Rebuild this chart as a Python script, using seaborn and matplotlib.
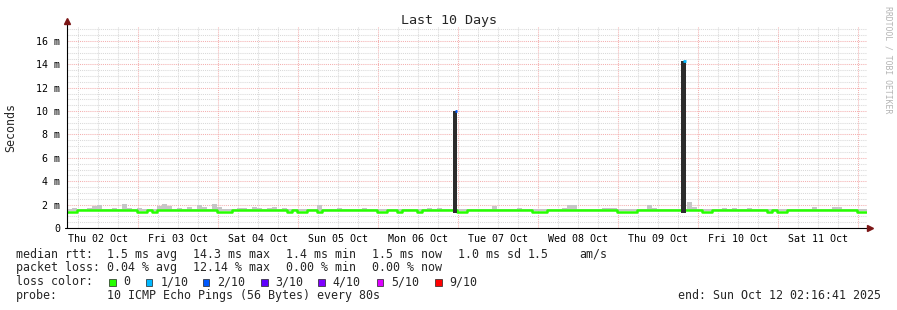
import numpy as np
import pandas as pd
import matplotlib
matplotlib.use("Agg")
import matplotlib.pyplot as plt
from matplotlib.lines import Line2D
from matplotlib.patches import Rectangle
from matplotlib.ticker import FixedLocator, FuncFormatter, MultipleLocator
import seaborn as sns

# ---------------- data (hours since Thu 02 Oct 00:00, values in ms) ----------------
start_hour = 2.55
bin_hours = 1.5

median_ms = [
    1.39, 1.39, 1.5, 1.5, 1.5, 1.5, 1.5, 1.5, 1.5, 1.5,
    1.5, 1.5, 1.5, 1.5, 1.39, 1.39, 1.5, 1.39, 1.5, 1.5,
    1.5, 1.5, 1.5, 1.5, 1.5, 1.5, 1.5, 1.5, 1.5, 1.5,
    1.39, 1.39, 1.39, 1.5, 1.5, 1.5, 1.5, 1.5, 1.5, 1.5,
    1.5, 1.5, 1.5, 1.5, 1.39, 1.5, 1.39, 1.39, 1.5, 1.5,
    1.39, 1.5, 1.5, 1.5, 1.5, 1.5, 1.5, 1.5, 1.5, 1.5,
    1.5, 1.5, 1.39, 1.39, 1.5, 1.5, 1.39, 1.5, 1.5, 1.5,
    1.39, 1.5, 1.5, 1.5, 1.5, 1.5, 1.5, 1.5, 1.39, 1.39,
    1.5, 1.5, 1.5, 1.5, 1.5, 1.5, 1.5, 1.5, 1.5, 1.5,
    1.5, 1.5, 1.5, 1.39, 1.39, 1.39, 1.5, 1.5, 1.5, 1.5,
    1.5, 1.5, 1.5, 1.5, 1.5, 1.5, 1.5, 1.5, 1.5, 1.5,
    1.39, 1.39, 1.39, 1.39, 1.5, 1.5, 1.5, 1.5, 1.5, 1.5,
    1.5, 1.5, 1.5, 1.5, 1.5, 1.5, 1.5, 1.39, 1.39, 1.5,
    1.5, 1.5, 1.5, 1.5, 1.5, 1.5, 1.5, 1.5, 1.5, 1.5,
    1.39, 1.5, 1.39, 1.39, 1.5, 1.5, 1.5, 1.5, 1.5, 1.5,
    1.5, 1.5, 1.5, 1.5, 1.5, 1.5, 1.5, 1.5, 1.39, 1.39,
]

smoke_top_ms = [
    1.6, 1.71, 1.6, 1.6, 1.75, 1.9, 1.97, 1.6, 1.6, 1.71,
    1.6, 2.05, 1.71, 1.6, 1.71, 1.6, 1.6, 1.6, 1.9, 2.05,
    1.88, 1.6, 1.71, 1.6, 1.82, 1.6, 1.94, 1.76, 1.6, 2.05,
    1.82, 1.65, 1.6, 1.6, 1.71, 1.71, 1.6, 1.82, 1.71, 1.6,
    1.71, 1.82, 1.6, 1.71, 1.6, 1.65, 1.6, 1.6, 1.6, 1.6,
    2.0, 1.65, 1.65, 1.65, 1.71, 1.6, 1.6, 1.6, 1.6, 1.71,
    1.6, 1.6, 1.6, 1.6, 1.6, 1.6, 1.6, 1.6, 1.6, 1.65,
    1.6, 1.6, 1.71, 1.6, 1.71, 1.6, 1.65, 1.6, 1.6, 1.6,
    1.6, 1.65, 1.6, 1.6, 1.6, 1.88, 1.6, 1.6, 1.6, 1.6,
    1.71, 1.6, 1.6, 1.6, 1.6, 1.6, 1.6, 1.6, 1.6, 1.71,
    1.94, 1.94, 1.6, 1.6, 1.65, 1.6, 1.65, 1.71, 1.71, 1.71,
    1.6, 1.6, 1.6, 1.6, 1.6, 1.6, 1.94, 1.71, 1.65, 1.65,
    1.65, 1.6, 1.6, 1.6, 2.2, 1.82, 1.6, 1.6, 1.6, 1.6,
    1.6, 1.71, 1.6, 1.71, 1.6, 1.6, 1.71, 1.65, 1.6, 1.65,
    1.6, 1.6, 1.6, 1.6, 1.6, 1.6, 1.65, 1.6, 1.6, 1.82,
    1.6, 1.6, 1.6, 1.76, 1.76, 1.6, 1.65, 1.6, 1.6, 1.6,
]

spike_hour = [118.6, 187.0]
spike_width_h = [1.2, 1.25]
spike_top_ms = [10.05, 14.25]
spike_loss = ["2/10", "1/10"]

day_labels = ["Thu 02 Oct", "Fri 03 Oct", "Sat 04 Oct", "Sun 05 Oct", "Mon 06 Oct",
              "Tue 07 Oct", "Wed 08 Oct", "Thu 09 Oct", "Fri 10 Oct", "Sat 11 Oct"]

loss_labels = ["0", "1/10", "2/10", "3/10", "4/10", "5/10", "9/10"]
loss_colors = ["#26ff00", "#00b8ff", "#0059ff", "#5e00ff", "#7e00ff", "#dd00ff", "#ff0000"]

row_rtt = ["median rtt:", "1.5 ms avg", "14.3 ms max", "1.4 ms min", "1.5 ms now",
           "1.0 ms sd", "1.5", "am/s"]
row_loss = ["packet loss:", "0.04 % avg", "12.14 % max", "0.00 % min", "0.00 % now"]
probe_text = "10 ICMP Echo Pings (56 Bytes) every 80s"
end_text = "end: Sun Oct 12 02:16:41 2025"

# ---------------- layout ----------------
W, H = 897, 310
sns.set_style("white")
plt.rcParams["font.family"] = ["DejaVu Sans Mono"]

fig = plt.figure(figsize=(W / 100, H / 100), dpi=100)
fig.patch.set_facecolor("white")
ax = fig.add_axes([66.5 / W, (H - 228) / H, 800 / W, 202.2 / H])
ax.set_facecolor("white")

n = len(median_ms)
edges = start_hour + bin_hours * np.arange(n + 1)
med_ext = np.append(median_ms, median_ms[-1])
smoke_ext = np.append(smoke_top_ms, smoke_top_ms[-1])
df = pd.DataFrame({"hour": edges, "median": med_ext})

# smoke
ax.fill_between(edges, 1.45, smoke_ext, step="post", color="#c6c6c6", lw=0, zorder=3)

# median line
sns.lineplot(data=df, x="hour", y="median", ax=ax, drawstyle="steps-post",
             color=loss_colors[0], lw=1.8, estimator=None, sort=False, zorder=4)

# spikes (dark smoke column + loss-coloured median cap)
ax.bar(spike_hour, np.subtract(spike_top_ms, 1.3), bottom=1.3, width=spike_width_h,
       align="edge", color="#2c2c2c", lw=0, zorder=5)
cap_colors = [loss_colors[loss_labels.index(l)] for l in spike_loss]
for h, w, t, c in zip(spike_hour, spike_width_h, spike_top_ms, cap_colors):
    ax.hlines(t, h + w * 0.35, h + w, colors=c, lw=2.0, zorder=6)

# axes limits
ax.set_xlim(start_hour, start_hour + 240)
ax.set_ylim(0, 17.3)

# grid
ax.xaxis.set_major_locator(FixedLocator(np.arange(24, 241, 24)))
ax.xaxis.set_minor_locator(FixedLocator(np.arange(6, 243, 6)))
ax.yaxis.set_major_locator(MultipleLocator(2))
ax.yaxis.set_minor_locator(MultipleLocator(0.5))
ax.set_axisbelow(True)
ax.grid(which="minor", color="#d9d9d9", ls=(0, (1, 1)), lw=0.75)
ax.grid(which="major", color="#f4b0b0", ls=(0, (1, 1)), lw=0.75)

ax.xaxis.set_major_formatter(FuncFormatter(lambda v, p: ""))
ax.xaxis.set_minor_formatter(FuncFormatter(
    lambda v, p: day_labels[int(v // 24)] if (abs(v % 24 - 12) < 1e-6 and 0 <= int(v // 24) < len(day_labels)) else ""))
ax.yaxis.set_major_formatter(FuncFormatter(lambda v, p: "0" if abs(v) < 1e-9 else f"{v:g} m"))

ax.tick_params(axis="x", which="both", length=0, pad=4, labelsize=7.2, colors="#000000")
ax.tick_params(axis="y", which="major", length=2, width=0.8, pad=2.5, labelsize=7.2,
               colors="#000000")
ax.tick_params(axis="y", which="minor", length=0)
ax.set_xlabel("")
ax.set_ylabel("")
for s in ax.spines.values():
    s.set_visible(False)

# axis lines with arrows
ax.add_line(Line2D([0, 0], [0, 1.022], transform=ax.transAxes, color="#000000",
                   lw=0.8, clip_on=False, zorder=7))
ax.add_line(Line2D([-0.002, 1.003], [0, 0], transform=ax.transAxes, color="#000000",
                   lw=0.8, clip_on=False, zorder=7))
ax.plot([0], [1.024], marker="^", ms=3.8, color="#7c1616", transform=ax.transAxes,
        clip_on=False, zorder=8)
ax.plot([1.0048], [0], marker=">", ms=3.8, color="#7c1616", transform=ax.transAxes,
        clip_on=False, zorder=8)

# texts
def fx(px):
    return px / W

def fy(py):
    return 1 - py / H

fig.text(fx(448.5), fy(24), "Last 10 Days", ha="center", va="baseline", fontsize=9.6)
fig.text(fx(11), fy(127), "Seconds", rotation=90, ha="center", va="center", fontsize=8.4)
fig.text(fx(887.5), fy(60), "RRDTOOL / TOBI OETIKER", rotation=270, ha="center",
         va="center", fontsize=5.9, color="#b4b4b4")

leg_fs = 8.4
rtt_x = [16, 107.3, 193.3, 285.5, 372.3, 458.3, 527.7, 579.3]
for t, x in zip(row_rtt, rtt_x):
    fig.text(fx(x), fy(257.6), t, ha="left", va="baseline", fontsize=leg_fs)
loss_x = [16, 107.3, 193.3, 286, 372.3]
for t, x in zip(row_loss, loss_x):
    fig.text(fx(x), fy(271.3), t, ha="left", va="baseline", fontsize=leg_fs)

fig.text(fx(16), fy(285.1), "loss color:", ha="left", va="baseline", fontsize=leg_fs)
box_x = [109, 145.7, 202.7, 261, 318.3, 376.7, 435]
for lab, col, bx in zip(loss_labels, loss_colors, box_x):
    fig.add_artist(Rectangle((fx(bx), fy(285.6)), 6.5 / W, 6.5 / H, transform=fig.transFigure,
                             facecolor=col, edgecolor="#222222", lw=0.5))
    fig.text(fx(bx + 14.5), fy(285.1), lab, ha="left", va="baseline", fontsize=leg_fs)

fig.text(fx(16), fy(298.9), "probe:", ha="left", va="baseline", fontsize=leg_fs)
fig.text(fx(107.3), fy(298.9), probe_text, ha="left", va="baseline", fontsize=leg_fs)
fig.text(fx(678.3), fy(298.9), end_text, ha="left", va="baseline", fontsize=leg_fs)

fig.savefig("out.png", dpi=100, facecolor="white")
